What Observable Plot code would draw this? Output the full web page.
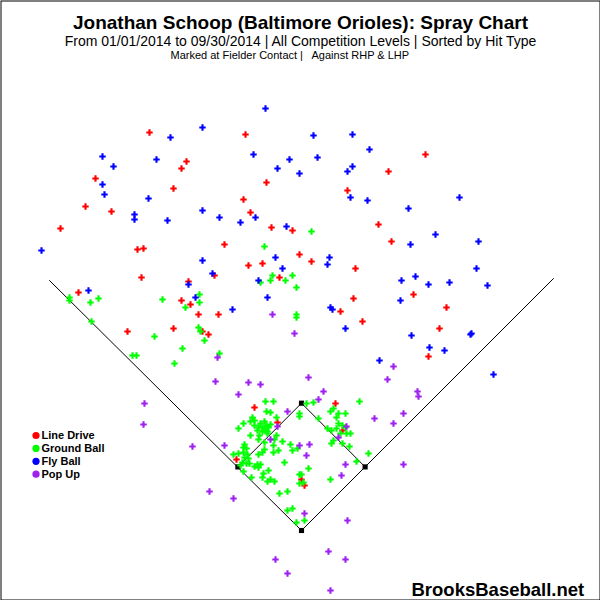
<!DOCTYPE html>
<html><head><meta charset="utf-8">
<script src="https://cdn.jsdelivr.net/npm/d3@7"></script>
<script src="https://cdn.jsdelivr.net/npm/@observablehq/plot@0.6"></script>
<style>
body{margin:0;background:#fff;}
#chart svg{display:block;}
#chart svg text{white-space:pre;}
</style>
</head><body><div id="chart"></div>
<script>
const title = "Jonathan Schoop (Baltimore Orioles): Spray Chart";
const subtitle = "From 01/01/2014 to 09/30/2014 | All Competition Levels | Sorted by Hit Type";
const note = "Marked at Fielder Contact |   Against RHP & LHP";
const credit = "BrooksBaseball.net";
const hitTypes = ["Line Drive", "Ground Ball", "Fly Ball", "Pop Up"];
const hitColors = ["#ff0000", "#00ff00", "#0000ff", "#a020f0"];

// fielder-contact positions in feet from home plate: [x (+ toward 1B side), y (+ toward CF)]
const lineDrive = [[-152,398],[-115,369],[-120,362],[-206,352],[-128,342],[-216,324],[-190,319],[-56,396],[-35,348],[46,340],[-58,331],[-51,318],[124,376],[87,359],[77,306],[-241,302],[-164,281],[-158,282],[-160,253],[-113,249],[-223,238],[-120,230],[-111,226],[-174,199],[-128,202],[-30,303],[-9,300],[-77,286],[-2,276],[-53,265],[-39,267],[10,269],[-87,255],[-22,253],[-103,216],[-83,216],[39,219],[-99,199],[-93,196],[90,289],[54,262],[52,232],[112,236],[145,223],[61,209],[138,202],[127,174],[-47,123],[-24,108],[34,127],[41,100],[-65,71],[0,51],[3,45]];

const groundBall = [[-232,233],[-232,230],[-203,232],[-211,228],[-139,231],[-116,223],[-210,209],[-147,194],[-119,182],[-169,175],[-165,175],[10,299],[-37,284],[-29,255],[-9,255],[-41,248],[-31,250],[-16,250],[-5,243],[-102,236],[-102,228],[-5,216],[-5,213],[-103,203],[-101,199],[-97,190],[-82,177],[-127,167],
[-36,129],[-28,129],[-35,119],[-31,118],[-2,117],[-2,114],[-49,113],[-47,110],[-51,109],[-25,113],[-58,107],[-63,102],[-51,95],[-42,95],[-43,91],[-34,97],[-25,95],[-27,91],[-37,88],[-19,89],[-28,85],[-57,86],[-58,83],[-55,82],[-11,86],[-37,81],
[-41,107],[-37,109],[-35,105],[-39,103],[-33,103],[-37,101],[-43,103],[-47,105],[-31,106],[-39,99],[-44,100],[-34,99],[-4,82],
[12,128],[5,127],[58,129],[32,122],[29,119],[37,117],[44,117],[35,113],[17,112],[37,107],[41,105],[44,103],[35,102],[26,102],[30,100],[39,97],[45,97],[49,97],[32,90],[30,87],[41,87],[48,84],
[-68,76],[-63,77],[-58,78],[-54,76],[-53,72],[-57,73],[-59,68],[-55,67],[-52,67],[-61,65],[-44,66],[-41,66],[-43,63],[-47,64],[-43,76],[-39,78],[-28,78],[-23,80],[-9,80],[-17,68],[7,62],[67,77],[55,69],[-58,59],[-33,60],[-38,57],[-39,53],[-2,56],[0,56],[-50,53],[29,51],[-31,51],[-34,49],[-27,49],[-2,47],[2,48],[-14,39],[-22,37],[-14,20],[-9,22],[-5,8],[3,10]];

const flyBall = [[-131,393],[-199,374],[-145,371],[-188,364],[-199,346],[-197,336],[-153,332],[-167,316],[-167,311],[-134,310],[-36,422],[-99,403],[12,395],[-48,376],[-12,371],[16,373],[-24,362],[-2,357],[46,359],[49,333],[-99,320],[-82,313],[-46,313],[-61,308],[-15,304],[51,396],[68,381],[51,364],[66,330],[158,333],[107,322],[-260,280],[-213,240],[-113,246],[-99,270],[-26,273],[28,273],[26,266],[-89,257],[-19,262],[-43,250],[-106,233],[-34,233],[-69,221],[29,223],[31,221],[44,202],[109,286],[134,296],[177,289],[100,250],[114,254],[127,246],[148,248],[175,262],[186,245],[99,230],[110,195],[169,196],[170,197],[128,183],[143,180],[78,170],[192,156]];

const popUp = [[-29,216],[-7,197],[-84,173],[-86,149],[-157,127],[-158,106],[-109,84],[-77,85],[-92,39],[-53,148],[-41,146],[-63,136],[-14,119],[-24,104],[-31,91],[-2,85],[7,153],[22,139],[17,131],[73,112],[45,104],[37,93],[8,86],[92,164],[86,151],[116,139],[117,134],[102,117],[92,107],[102,66],[5,75],[44,66],[40,55],[-68,32],[3,17],[46,10],[27,-21],[-26,-29],[44,-29],[-14,-43],[29,-60]];

// field outline (feet)
const foulLines = [[-252,250],[0,0],[252,252]];
const basePaths = [[-63.6,63.6],[0,127.3],[63.6,63.6]];
const bases = [[0,0],[63.6,63.6],[0,127.3],[-63.6,63.6]];

const series = [lineDrive, groundBall, flyBall, popUp];
const hits = series.flatMap((arr, i) => arr.map(([x, y]) => ({x, y, type: hitTypes[i]})));

const font = "'Liberation Sans', Arial, Helvetica, sans-serif";
const legendMarks = hitTypes.flatMap((t, i) => [
  Plot.dot([t], {frameAnchor: "top-left", dx: 35.5, dy: 435 + 12.9 * i, r: 3.6, fill: d => d}),
  Plot.text([t], {frameAnchor: "top-left", lineAnchor: "middle", dx: 41, dy: 435 + 12.9 * i, text: d => d, textAnchor: "start", fontSize: 11, fontWeight: "bold", fill: "#000"})
]);

const chart = Plot.plot({
  width: 600, height: 600, margin: 0,
  style: {fontFamily: font, background: "#fff", color: "#000"},
  x: {domain: [-301, 299], axis: null},
  y: {domain: [-70, 530], axis: null},
  color: {domain: hitTypes, range: hitColors},
  marks: [
    Plot.frame({stroke: "#000", inset: 0.5}),
    Plot.line(foulLines, {x: d => d[0], y: d => d[1], stroke: "#000", strokeWidth: 1}),
    Plot.line(basePaths, {x: d => d[0], y: d => d[1], stroke: "#000", strokeWidth: 1}),
    Plot.dot(bases, {x: d => d[0], y: d => d[1], symbol: "square", r: 2.9, fill: "#000"}),
    Plot.dot(hits, {x: "x", y: "y", fill: "type", symbol: "cross", r: 2.7}),
    Plot.text([title], {frameAnchor: "top", lineAnchor: "middle", dy: 22.9, text: d => d, fontSize: 19, fontWeight: "bold", fill: "#000"}),
    Plot.text([subtitle], {frameAnchor: "top", lineAnchor: "middle", dy: 41.5, text: d => d, fontSize: 14, fill: "#000"}),
    Plot.text([note], {frameAnchor: "top-left", lineAnchor: "middle", dx: 170, dy: 54.5, text: d => d, fontSize: 11, textAnchor: "start", fill: "#000"}),
    Plot.text([credit], {frameAnchor: "top-left", lineAnchor: "middle", dx: 411, dy: 590, text: d => d, fontSize: 18.5, fontWeight: "bold", textAnchor: "start", fill: "#000"}),
    ...legendMarks
  ]
});
document.getElementById("chart").append(chart);
</script>
</body></html>
